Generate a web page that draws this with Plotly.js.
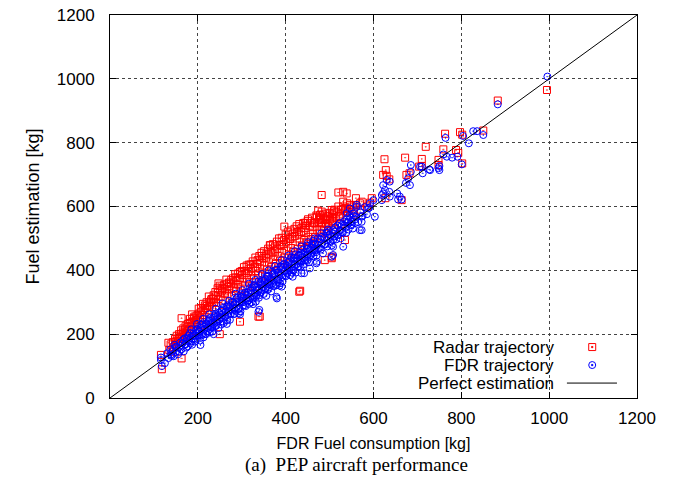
<!DOCTYPE html>
<html>
<head>
<meta charset="utf-8">
<script src="https://cdn.plot.ly/plotly-3.0.1.min.js"></script>
<style>html,body{margin:0;padding:0;background:#fff;}#chart{width:681px;height:481px;}</style>
</head>
<body>
<div id="chart"></div>
<script>
// ---- Data ----
const axisTicks = [0, 200, 400, 600, 800, 1000, 1200];
const tickLabels = ["0", "200", "400", "600", "800", "1000", "1200"];

const radarBand = [
[135,150],[138,168],[140,145],[143,175],[145,160],[148,185],[150,170],[152,195],[155,175],[157,200],
[160,185],[162,212],[165,190],[167,218],[170,198],[172,225],[175,205],[177,232],[180,215],[182,248],
[185,222],[187,262],[190,230],[192,255],[195,238],[197,258],[200,245],[202,280],[205,252],[207,282],
[210,260],[212,295],[215,268],[217,282],[220,300],[222,275],[225,318],[227,290],[230,305],[232,285],
[235,312],[237,300],[240,332],[242,298],[245,344],[247,310],[250,352],[252,318],[255,336],[257,305],
[260,355],[262,330],[265,371],[267,325],[270,350],[272,340],[275,358],[277,320],[280,375],[282,345],
[285,388],[287,335],[290,370],[292,355],[295,376],[297,340],[300,398],[302,365],[305,410],[307,350],
[310,392],[312,375],[315,398],[317,362],[320,418],[322,385],[325,428],[327,372],[330,412],[332,398],
[335,420],[337,385],[340,445],[342,405],[345,455],[347,390],[350,438],[352,415],[355,440],[357,402],
[360,468],[362,425],[365,478],[367,410],[370,455],[372,435],[375,462],[377,420],[380,490],[382,445],
[385,500],[387,430],[390,478],[392,455],[395,482],[397,440],[400,512],[402,462],[405,521],[407,450],
[410,498],[412,470],[415,505],[417,458],[420,530],[422,478],[425,538],[427,468],[430,515],[432,488],
[435,520],[437,478],[440,548],[442,495],[445,532],[447,488],[450,555],[452,505],[455,540],[457,498],
[460,565],[462,515],[465,548],[467,505],[470,572],[472,525],[475,552],[477,518],[480,565],[482,535],
[485,575],[487,528],[490,560],[492,545],[495,565],[497,538],[500,580],[505,555],[510,585],[515,565],
[520,600],[525,575],[530,592],[535,585],[540,610],[545,592],[550,600],[555,588],[560,605],
[180,195],[195,210],[210,228],[225,242],[240,255],[255,270],[270,290],[285,300],[300,320],[315,330],
[330,350],[345,362],[360,380],[375,392],[390,410],[405,422],[420,440],[435,455],[450,470],[465,485],
[480,500],[495,515],[510,530],[525,545],[540,560],[555,575],[570,590],[585,600],
[151,178],[156,190],[161,200],[166,205],[171,215],[176,222],[181,235],[186,238],[191,250],[196,245],
[201,262],[206,268],[211,275],[216,290],[221,288],[226,300],[231,310],[236,322],[241,318],[246,330],
[251,340],[256,345],[261,342],[266,358],[271,362],[276,370],[281,362],[286,378],[291,390],[296,395],
[301,385],[306,398],[311,415],[316,418],[321,405],[326,420],[331,440],[336,432],[341,428],[346,445],
[351,460],[356,452],[361,450],[366,462],[371,482],[376,475],[381,468],[386,480],[391,502],[396,495],
[401,488],[406,500],[411,525],[416,515],[421,508],[426,520],[431,545],[436,532],[441,522],[446,540],
[451,560],[456,548],[461,535],[466,550],[471,568],[476,560],[481,548],[486,562],[491,578],[496,570],
[501,560],[506,575],[511,590],[516,582],[521,570],[526,590],[531,600],[536,595],[541,585],[546,605]
];

const radarOutliers = [
[995,965],[883,932],[763,828],[797,833],[802,825],[850,838],[719,787],[759,779],[788,777],[793,768],
[802,735],[710,749],[748,746],[748,730],[710,727],[625,748],[672,753],[628,714],[622,699],[630,696],
[636,685],[675,699],[704,725],[627,626],[664,620],[682,704],[520,644],[531,646],[539,641],[482,636],
[560,626],[573,615],[531,615],[569,610],[592,612],[596,626],[505,589],[482,584],[508,563],[493,558],
[535,495],[505,438],[489,432],[474,587],[478,573],[482,549],[444,549],[397,537],[364,479],[247,359],
[433,336],[505,443],[338,255],[296,239],[250,200],[163,124],[118,90],[116,135],[163,250],[133,173],
[431,333],[341,255],[478,558],[505,547]
];

const fdrBand = [
[130,140],[133,125],[137,152],[139,136],[142,147],[145,131],[147,167],[150,144],[152,160],[155,137],
[157,159],[160,174],[162,152],[165,171],[168,146],[170,187],[172,168],[175,184],[177,162],[180,181],
[182,203],[185,177],[187,167],[190,202],[192,195],[195,183],[197,215],[200,195],[202,209],[205,180],
[207,221],[210,201],[212,234],[215,215],[217,201],[220,230],[222,219],[225,244],[227,206],[230,235],
[232,221],[235,251],[237,231],[240,264],[242,228],[245,247],[247,219],[250,261],[252,251],[255,273],
[257,240],[260,267],[262,254],[265,286],[267,244],[270,274],[272,285],[275,263],[277,278],[280,299],
[282,263],[285,294],[287,282],[290,315],[292,279],[295,301],[297,271],[300,315],[302,300],[305,325],
[307,291],[310,313],[312,323],[315,306],[317,295],[320,337],[322,327],[325,311],[327,350],[330,326],
[332,302],[335,347],[337,338],[340,322],[342,362],[345,338],[347,355],[350,326],[352,367],[355,344],
[357,383],[360,362],[362,346],[365,375],[367,334],[370,388],[372,367],[375,382],[377,357],[380,402],
[382,373],[385,388],[387,360],[390,404],[392,379],[395,419],[397,397],[400,381],[403,414],[405,399],
[408,427],[410,385],[413,418],[415,403],[418,439],[420,417],[423,393],[425,438],[428,430],[430,413],
[433,449],[435,427],[438,463],[440,418],[443,449],[445,431],[448,466],[450,449],[453,425],[455,465],
[458,448],[460,482],[463,444],[465,468],[468,482],[470,446],[473,481],[475,469],[478,498],[480,465],
[483,484],[485,453],[488,503],[490,481],[493,517],[495,475],[498,503],[500,512],[503,490],[505,478],
[508,526],[510,506],[513,522],[515,497],[518,540],[520,512],[523,525],[525,500],[528,542],[530,518],
[533,553],[535,533],[538,518],[540,550],[543,528],[545,570],[548,542],[550,554],[553,531],[555,571],
[558,548],[560,568],[565,551],[570,582],[575,570],[580,598],[585,576],[590,596],
[171,169],[176,189],[183,171],[188,194],[194,177],[199,215],[204,208],[209,196],[214,223],[219,200],
[224,238],[229,222],[234,236],[239,224],[244,256],[249,245],[254,274],[259,235],[264,270],[269,260],
[274,290],[279,275],[284,264],[289,300],[294,279],[299,302],[304,313],[309,288],[314,331],[319,313],
[324,346],[329,317],[334,338],[339,314],[344,357],[349,347],[354,373],[359,339],[364,370],[369,359],
[374,389],[379,353],[384,393],[389,385],[394,411],[399,385],[404,408],[409,433],[414,393],[419,428],
[424,417],[429,447],[434,411],[439,440],[444,456],[449,430],[454,460],[459,454],[464,481],[469,457],
[185,215],[198,232],[212,248],[226,262],[241,280],[256,296],[271,305],[286,327],[301,338],[316,358],
[331,370],[346,388],[361,400],[376,414],[391,432],[406,446],[421,460],[436,475],[451,488],[466,500],
[481,516],[496,528],[206,166],[236,200],[266,232],[296,262],[326,294],[356,320],[386,352],[416,380],
[140,132],[149,160],[158,145],[167,183],[174,158],[179,196],[189,185],[196,203],[203,196],[208,230],
[213,190],[218,232],[223,210],[228,250],[233,208],[238,257],[243,240],[248,268],[253,230],[258,282],
[263,258],[268,290],[273,245],[278,302],[283,280],[288,312],[293,266],[298,325],[303,290],[308,330],
[313,303],[318,345],[323,300],[328,355],[333,320],[338,365],[343,330],[348,372],[353,340],[358,380],
[363,355],[368,395],[373,350],[378,402],[383,370],[388,412],[393,365],[398,420],[403,392],[408,405],
[413,440],[418,400],[423,450],[428,412],[433,428],[438,452],[443,432],[448,478],[453,442],[458,470],
[463,492],[468,462],[473,500],[478,470],[483,505],[488,482],[493,495],[498,522],[503,505],[508,495],
[513,535],[518,510],[523,548],[528,520],[533,540],[538,560],[543,550],[548,565],[553,578],[558,560]
];

const fdrOutliers = [
[116,127],[116,119],[125,109],[118,100],[340,276],[338,270],[380,312],[379,317],[391,349],[436,391],
[442,391],[455,406],[470,422],[471,427],[505,443],[508,448],[508,474],[531,474],[569,526],[573,526],
[573,552],[550,542],[546,594],[562,605],[562,599],[539,579],[588,594],[603,568],[573,568],[600,620],
[592,610],[619,636],[619,620],[622,641],[626,652],[622,667],[630,683],[637,678],[636,646],[637,631],
[654,641],[656,622],[660,631],[664,622],[674,674],[679,688],[683,667],[685,730],[685,709],[706,725],
[710,725],[712,704],[727,716],[729,714],[748,720],[750,727],[750,714],[759,763],[767,756],[779,753],
[791,756],[801,732],[764,815],[817,798],[804,821],[827,836],[836,836],[850,824],[883,920],[996,1007]
];

const perfectX = [0, 1200];
const perfectY = [0, 1200];

const legendNames = ["Radar trajectory", "FDR trajectory", "Perfect estimation"];

// ---- Build traces ----
const radarAll = radarBand.concat(radarOutliers);
const fdrAll = fdrBand.concat(fdrOutliers);

const traces = [
  {
    type: 'scatter', mode: 'markers', name: legendNames[0],
    x: radarAll.map(p => p[0]), y: radarAll.map(p => p[1]),
    marker: {symbol: 'square-open-dot', size: 7, color: '#ff0000', line: {width: 1, color: '#ff0000'}},
    showlegend: false, hoverinfo: 'skip'
  },
  {
    type: 'scatter', mode: 'markers', name: legendNames[1],
    x: fdrAll.map(p => p[0]), y: fdrAll.map(p => p[1]),
    marker: {symbol: 'circle-open-dot', size: 7, color: '#0000ff', line: {width: 1, color: '#0000ff'}},
    showlegend: false, hoverinfo: 'skip'
  },
  {
    type: 'scatter', mode: 'lines', name: legendNames[2],
    x: perfectX, y: perfectY,
    line: {color: '#000000', width: 1},
    showlegend: false, hoverinfo: 'skip'
  }
];

const font = {family: 'Liberation Sans, Arial, sans-serif', size: 16, color: '#000'};
const tickFont = {family: 'Liberation Sans, Arial, sans-serif', size: 17, color: '#000'};
const bigFont = {family: 'Liberation Sans, Arial, sans-serif', size: 18, color: '#000'};
const legendFont = {family: 'Liberation Sans, Arial, sans-serif', size: 17, color: '#000'};

const axisCommon = {
  range: [0, 1200],
  tickmode: 'array', tickvals: axisTicks, ticktext: tickLabels,
  ticks: 'inside', ticklen: 6, tickwidth: 1, tickcolor: '#000',
  showline: true, linecolor: '#000', linewidth: 1, mirror: 'ticks',
  showgrid: true, gridcolor: '#444', griddash: 'dot', gridwidth: 1,
  zeroline: false, tickfont: tickFont, fixedrange: true
};

// legend key positions in paper coordinates
const keyX = 0.915;
const rowY = [0.133, 0.086, 0.039];

const layout = {
  width: 681, height: 481,
  margin: {l: 110, r: 44, t: 15, b: 83},
  paper_bgcolor: '#fff', plot_bgcolor: '#fff',
  font: font,
  showlegend: false,
  xaxis: Object.assign({}, axisCommon, {
    title: {text: 'FDR Fuel consumption [kg]', font: font, standoff: 10},
    ticklabelstandoff: 5
  }),
  yaxis: Object.assign({}, axisCommon, {
    title: {text: 'Fuel estimation [kg]', font: bigFont, standoff: 12},
    ticklabelstandoff: 11
  }),
  shapes: [
    {type: 'rect', xref: 'paper', yref: 'paper', x0: 0.436, x1: 0.998, y0: 0.002, y1: 0.162,
     fillcolor: '#fff', line: {width: 0}, layer: 'between'},
    {type: 'rect', xref: 'paper', yref: 'paper', xsizemode: 'pixel', ysizemode: 'pixel',
     xanchor: keyX, yanchor: rowY[0], x0: -3.5, x1: 3.5, y0: -3.5, y1: 3.5,
     line: {color: '#ff0000', width: 1}, fillcolor: 'rgba(0,0,0,0)'},
    {type: 'rect', xref: 'paper', yref: 'paper', xsizemode: 'pixel', ysizemode: 'pixel',
     xanchor: keyX, yanchor: rowY[0], x0: -0.6, x1: 0.6, y0: -0.6, y1: 0.6,
     line: {color: '#ff0000', width: 1}, fillcolor: '#ff0000'},
    {type: 'circle', xref: 'paper', yref: 'paper', xsizemode: 'pixel', ysizemode: 'pixel',
     xanchor: keyX, yanchor: rowY[1], x0: -3.5, x1: 3.5, y0: -3.5, y1: 3.5,
     line: {color: '#0000ff', width: 1}, fillcolor: 'rgba(0,0,0,0)'},
    {type: 'rect', xref: 'paper', yref: 'paper', xsizemode: 'pixel', ysizemode: 'pixel',
     xanchor: keyX, yanchor: rowY[1], x0: -0.6, x1: 0.6, y0: -0.6, y1: 0.6,
     line: {color: '#0000ff', width: 1}, fillcolor: '#0000ff'},
    {type: 'line', xref: 'paper', yref: 'paper', x0: 0.867, x1: 0.962, y0: rowY[2], y1: rowY[2],
     line: {color: '#000', width: 1}}
  ],
  annotations: [
    {xref: 'paper', yref: 'paper', x: 0.846, y: rowY[0], xanchor: 'right', yanchor: 'middle',
     text: legendNames[0], showarrow: false, font: legendFont},
    {xref: 'paper', yref: 'paper', x: 0.846, y: rowY[1], xanchor: 'right', yanchor: 'middle',
     text: legendNames[1], showarrow: false, font: legendFont},
    {xref: 'paper', yref: 'paper', x: 0.846, y: rowY[2], xanchor: 'right', yanchor: 'middle',
     text: legendNames[2], showarrow: false, font: legendFont},
    {xref: 'paper', yref: 'paper', x: 0.467, y: -0.175, xanchor: 'center', yanchor: 'middle',
     text: '(a)  PEP aircraft performance', showarrow: false,
     font: {family: 'Liberation Serif, Times New Roman, serif', size: 19, color: '#000'}}
  ]
};

Plotly.newPlot('chart', traces, layout, {displayModeBar: false, staticPlot: true});
</script>
</body>
</html>
